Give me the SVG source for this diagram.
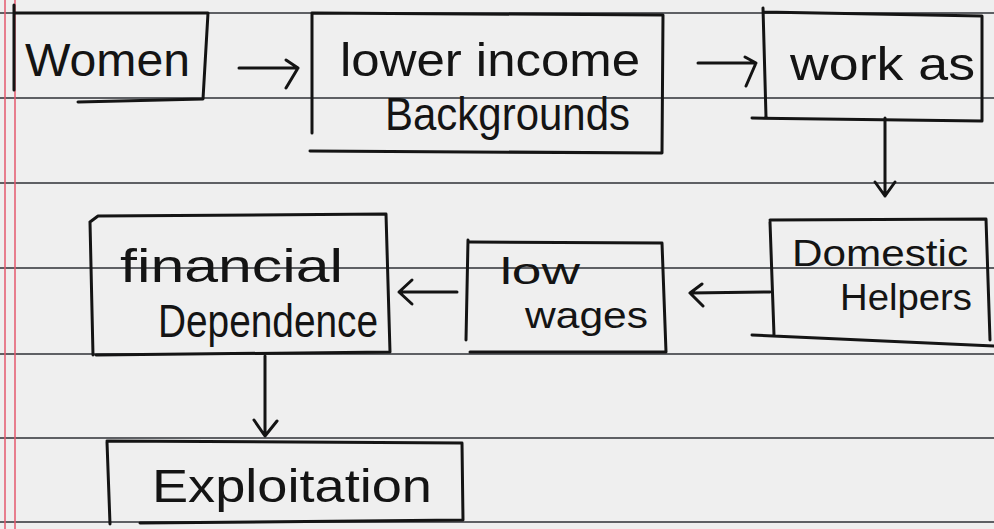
<svg xmlns="http://www.w3.org/2000/svg" width="994" height="529" viewBox="0 0 994 529">
<defs>
<style>
.paper{fill:#efefef}
.rule{stroke:#2e3036;stroke-width:1.6;fill:none}
.margin{stroke:#e4586e;stroke-width:1.5;fill:none}
.box{stroke:#141414;stroke-width:3;fill:none;stroke-linecap:round;stroke-linejoin:round}
.conn{stroke:#141414;stroke-width:3;fill:none;stroke-linecap:round;stroke-linejoin:round}
.t{font-family:"Liberation Sans","DejaVu Sans",sans-serif;font-size:46px;fill:#141414}
.s{font-size:36px}
</style>
</defs>
<rect class="paper" x="0" y="0" width="994" height="529"/>
<g id="paper-lines">
<line class="rule" x1="0" y1="13" x2="994" y2="13"/>
<line class="rule" x1="0" y1="98" x2="994" y2="98"/>
<line class="rule" x1="0" y1="183" x2="994" y2="183"/>
<line class="rule" x1="0" y1="268" x2="994" y2="268"/>
<line class="rule" x1="0" y1="354" x2="994" y2="354"/>
<line class="rule" x1="0" y1="438" x2="994" y2="438"/>
<line class="rule" x1="0" y1="522" x2="994" y2="522"/>
<line class="margin" x1="5" y1="0" x2="5" y2="529"/>
<line class="margin" x1="15" y1="0" x2="15" y2="529"/>
</g>
<g id="connectors">
<path class="conn" d="M239 68 L298 68 M286 60 L298 68 L286 88"/>
<path class="conn" d="M698 63 L756 63 M745 57 L756 63 L746 86"/>
<path class="conn" d="M885 118 L885 196 M875 182 L885 196 L895 182"/>
<path class="conn" d="M770 292 L690 293 M702 284 L690 293 L703 306"/>
<path class="conn" d="M457 292 L399 292 M412 280 L399 292 L412 304"/>
<path class="conn" d="M265 356 L265 435 M254 420 L265 436 L277 421"/>
</g>
<g id="node-women">
<path class="box" d="M14 5 L14 90 M14 13 L208 13 L203 99 L78 102"/>
<text class="t" x="25" y="76" textLength="165" lengthAdjust="spacingAndGlyphs">Women</text>
</g>
<g id="node-lower-income">
<path class="box" d="M312 13 L312 133 M312 13 L663 15 L662 153 L310 151"/>
<text class="t" x="340" y="76" textLength="300" lengthAdjust="spacingAndGlyphs">lower income</text>
<text class="t" x="385" y="130" textLength="245" lengthAdjust="spacingAndGlyphs">Backgrounds</text>
</g>
<g id="node-work-as">
<path class="box" d="M763 8 L766 117 M763 12 L982 16 L982 121 L752 118"/>
<text class="t" x="790" y="80" textLength="185" lengthAdjust="spacingAndGlyphs">work as</text>
</g>
<g id="node-domestic-helpers">
<path class="box" d="M770 222 L774 335 M770 220 L986 219 L990 340 M752 335 L994 346"/>
<text class="t s" x="792" y="266" textLength="176" lengthAdjust="spacingAndGlyphs">Domestic</text>
<text class="t s" x="840" y="310" textLength="132" lengthAdjust="spacingAndGlyphs">Helpers</text>
</g>
<g id="node-low-wages">
<path class="box" d="M468 240 L466 340 M470 242 L662 243 L666 352 L470 352"/>
<text class="t s" x="500" y="284" textLength="80" lengthAdjust="spacingAndGlyphs">low</text>
<text class="t s" x="525" y="328" textLength="123" lengthAdjust="spacingAndGlyphs">wages</text>
</g>
<g id="node-financial-dependence">
<path class="box" d="M90 222 L93 355 M90 222 L98 216 L386 214 L390 352 L96 355"/>
<text class="t" x="120" y="282" textLength="223" lengthAdjust="spacingAndGlyphs">financial</text>
<text class="t" x="158" y="337" textLength="220" lengthAdjust="spacingAndGlyphs">Dependence</text>
</g>
<g id="node-exploitation">
<path class="box" d="M107 442 L110 524 M107 441 L462 443 L463 520 L140 523"/>
<text class="t" x="152" y="502" textLength="280" lengthAdjust="spacingAndGlyphs">Exploitation</text>
</g>
</svg>
